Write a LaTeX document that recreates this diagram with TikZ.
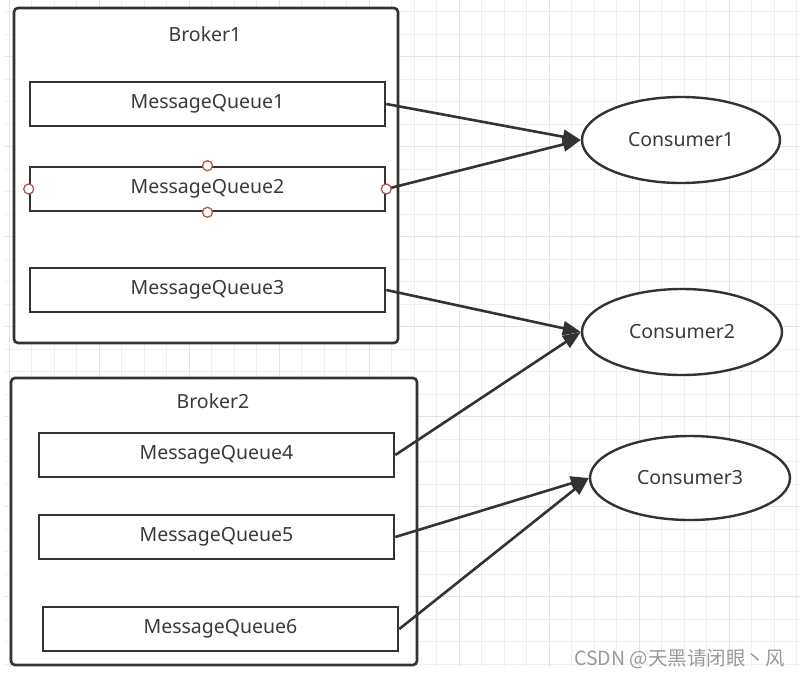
\documentclass[tikz,border=0pt]{standalone}
\usepackage{fontspec}
\setmainfont{Noto Sans}
\newfontfamily\cjkfont{Noto Sans CJK SC}
\usetikzlibrary{shapes.geometric, arrows.meta, positioning}

\definecolor{inkgray}{HTML}{333333}
\definecolor{textgray}{HTML}{3A3A3A}
\definecolor{gridminor}{HTML}{EFEFEF}
\definecolor{gridmajor}{HTML}{E4E4E4}
\definecolor{handlered}{HTML}{B85450}
\definecolor{markgray}{HTML}{9A9A9A}

\tikzset{
	broker/.style={draw=inkgray, line width=2.6pt, rounded corners=4pt, fill=white, inner sep=0pt},
	title/.style={font=\fontsize{19.5}{23}\selectfont, text=textgray},
	queue/.style={draw=inkgray, line width=2.6pt, fill=white, minimum width=355pt, minimum height=44pt,
		font=\fontsize{19.5}{23}\selectfont, text=textgray},
	consumer/.style={ellipse, draw=inkgray, line width=2.4pt, fill=white, minimum width=198pt,
		minimum height=86pt, font=\fontsize{19.5}{23}\selectfont, text=textgray},
	flow/.style={-{Triangle[length=18pt,width=14pt]}, draw=inkgray, line width=2.6pt},
	handle/.style={circle, draw=handlered, fill=white, line width=1.3pt, inner sep=0pt, minimum size=10pt},
	watermark/.style={font=\cjkfont\fontsize{19.5}{23}\selectfont, text=markgray, inner sep=0pt}
}

\begin{document}
\begin{tikzpicture}[x=1pt, y=-1pt]
	\useasboundingbox (0,0) rectangle (800,677);
	\fill[white] (0,0) rectangle (800,677);
	% background grid
	\foreach \k in {0,...,35}
		\draw[gridminor, line width=1pt] ({9.2+22.5*\k},0) -- ({9.2+22.5*\k},667);
	\foreach \k in {0,...,29}
		\draw[gridminor, line width=1pt] (5,{11.7+22.5*\k}) -- (800,{11.7+22.5*\k});
	\foreach \k in {0,...,8}
		\draw[gridmajor, line width=1.3pt] ({9.2+90*\k},0) -- ({9.2+90*\k},667);
	\foreach \k in {0,...,6}
		\draw[gridmajor, line width=1.3pt] (5,{56.7+90*\k}) -- (800,{56.7+90*\k});

	% brokers
	\node[broker, minimum width=384pt, minimum height=335pt] (broker1) at (206,175.5) {};
	\node[title] (b1title) at (205,34) {Broker1};
	\node[broker, minimum width=406pt, minimum height=287pt] (broker2) at (214,521.5) {};
	\node[title] (b2title) at (213,401) {Broker2};

	% queues
	\node[queue] (mq1) at (207.5,104) {MessageQueue1};
	\node[queue] (mq2) at (207.5,189) {MessageQueue2};
	\node[queue] (mq3) at (207.5,290) {MessageQueue3};
	\node[queue] (mq4) at (216.5,455) {MessageQueue4};
	\node[queue] (mq5) at (216.5,537) {MessageQueue5};
	\node[queue] (mq6) at (220.5,629) {MessageQueue6};

	% consumers
	\node[consumer] (c1) at (681,140) {Consumer1};
	\node[consumer, minimum width=200pt] (c2) at (682,332) {Consumer2};
	\node[consumer, minimum width=200pt, minimum height=84pt] (c3) at (690,478) {Consumer3};

	\path (mq1.east) edge[flow] (c1.west)
		(mq2.east) edge[flow] (c1.west)
		(mq3.east) edge[flow] (c2.west)
		(mq4.east) edge[flow] (c2.west)
		(mq5.east) edge[flow] (c3.west)
		(mq6.east) edge[flow] (c3.west);

	% selection handles on mq2
	\foreach \a in {north, south, east, west}
		\node[handle] (mq2\a) at (mq2.\a) {};

	\node[watermark, anchor=base east] (credit) at (785,665) {CSDN @天黑请闭眼丶风};
\end{tikzpicture}
\end{document}
